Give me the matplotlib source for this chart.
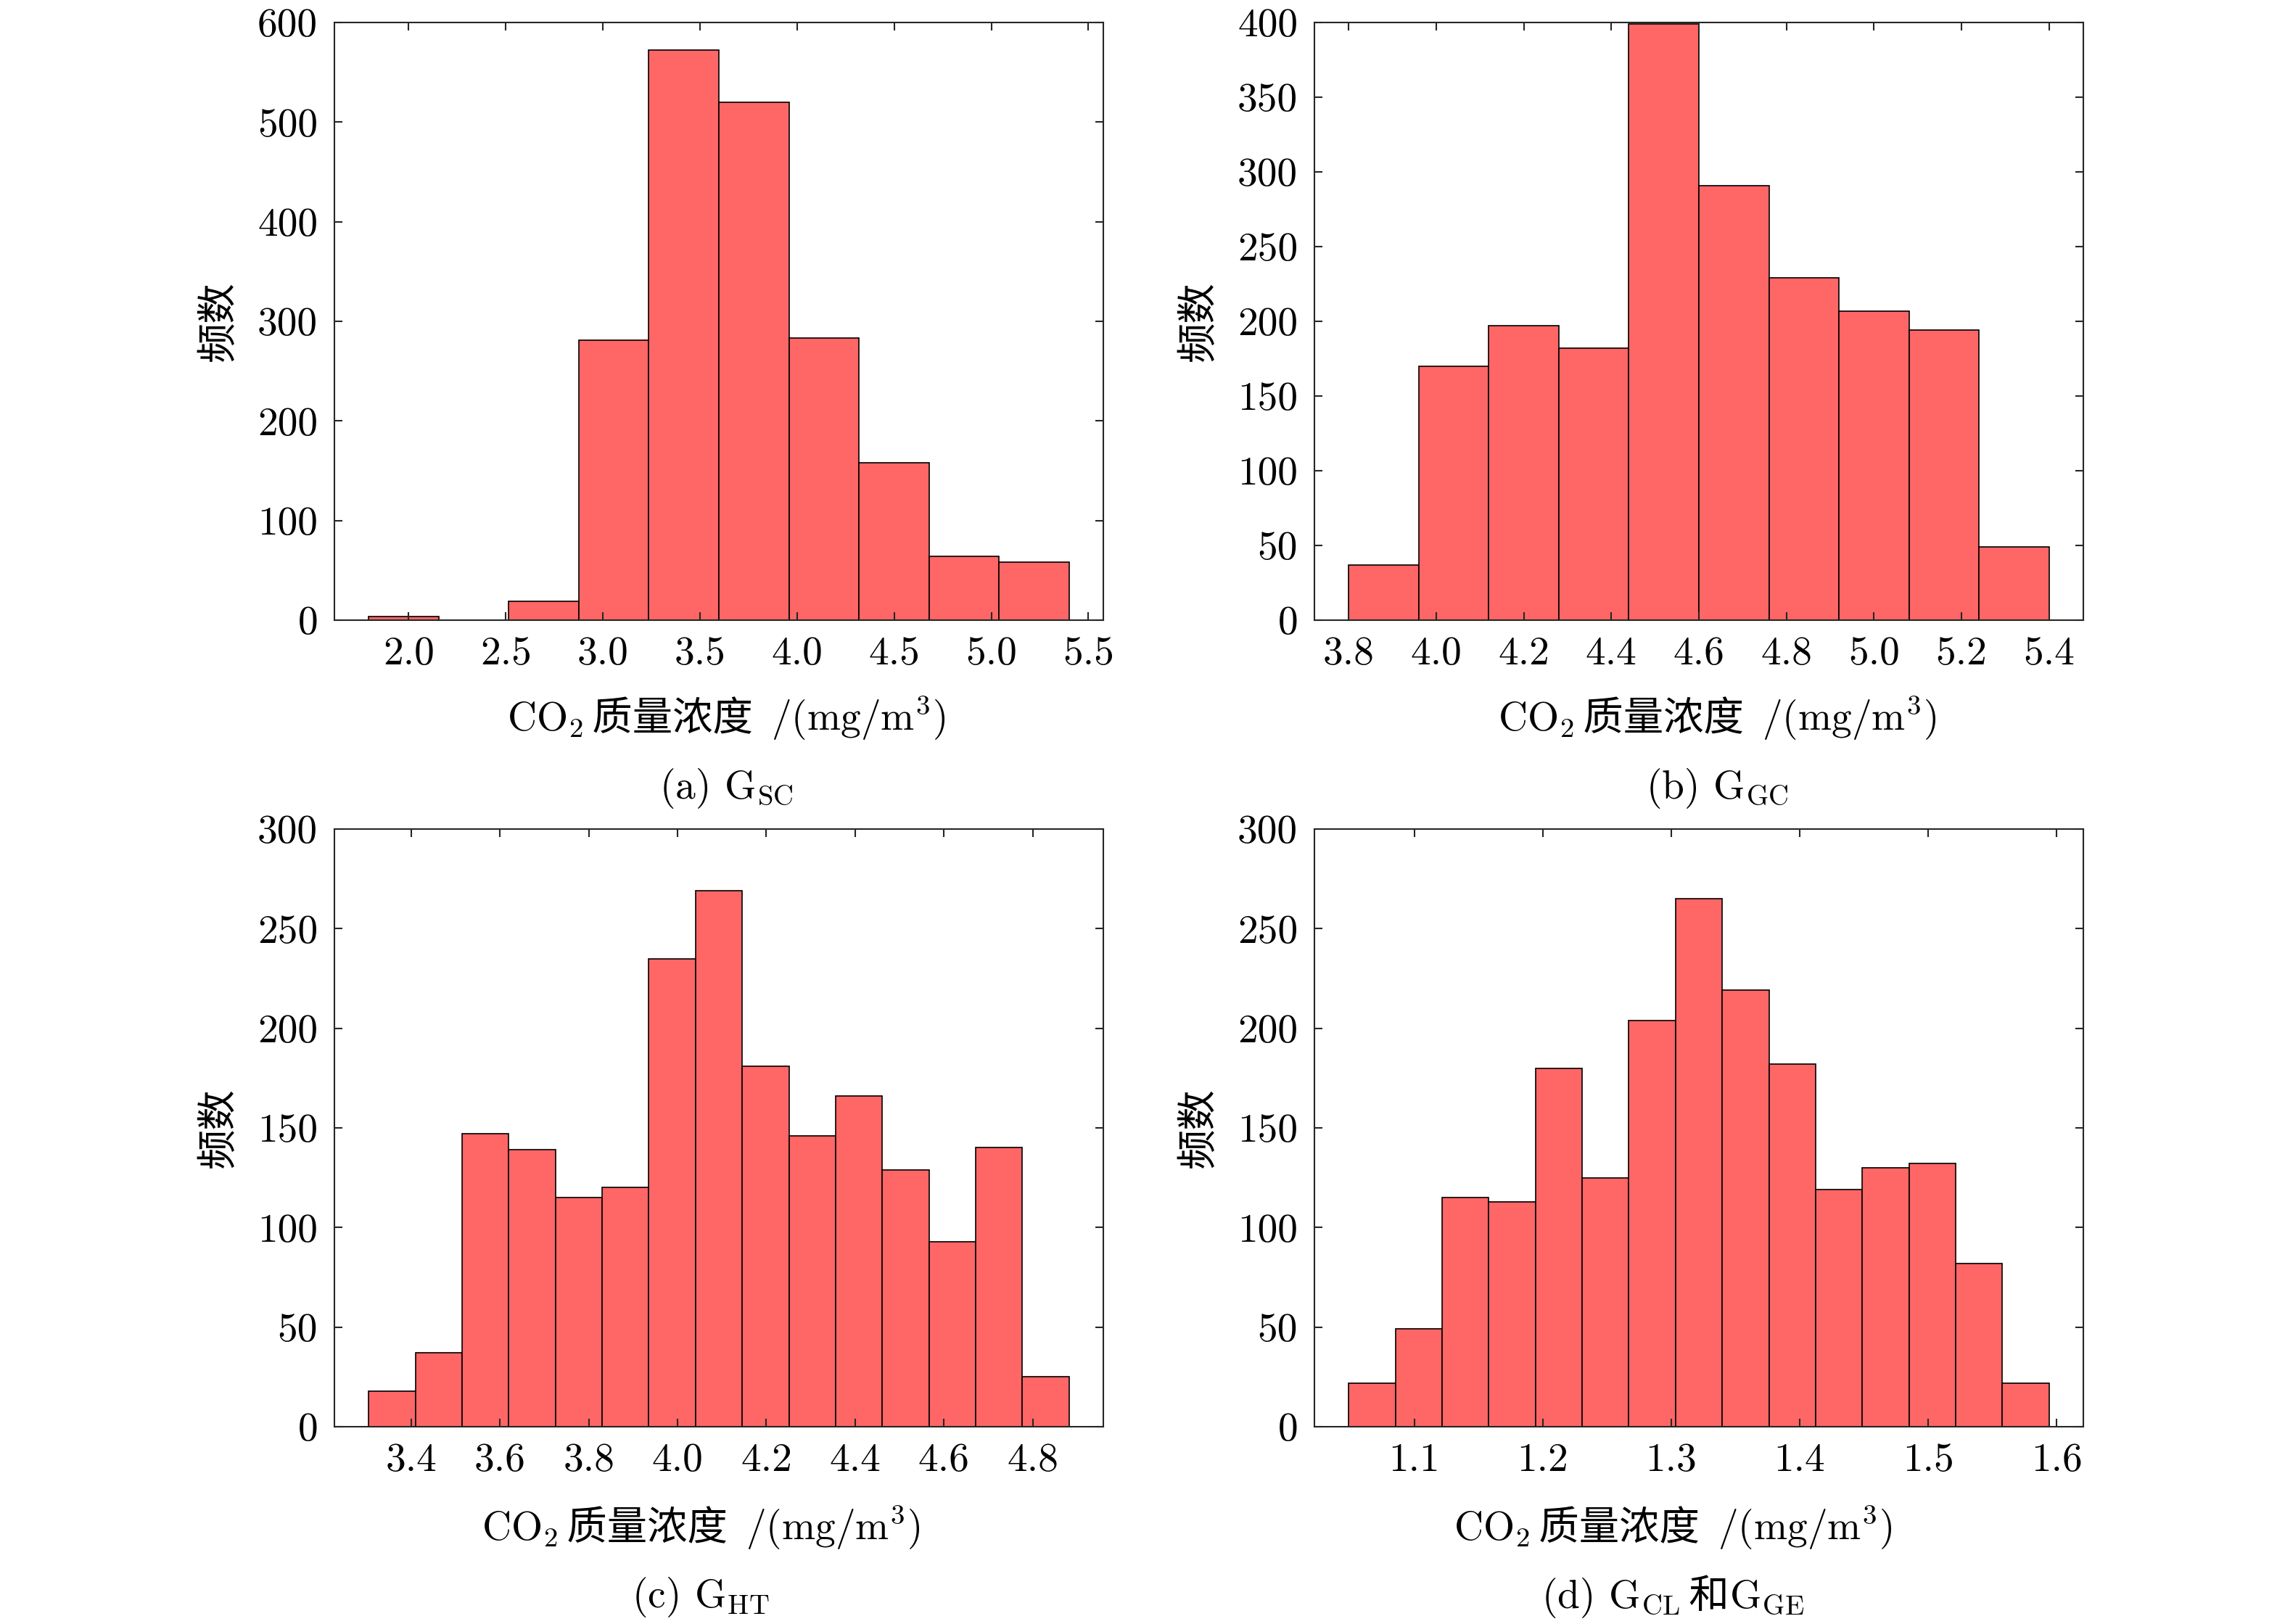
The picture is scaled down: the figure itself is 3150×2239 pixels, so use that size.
"""
Histograms of CO2 mass concentration for four groups (2x2 panel figure)
"""
import numpy as np
import matplotlib
matplotlib.use("Agg")
import matplotlib.pyplot as plt
from matplotlib.offsetbox import TextArea, HPacker, AnnotationBbox

plt.rcParams["font.family"] = ["cmr10", "Noto Sans CJK SC"]
plt.rcParams["mathtext.fontset"] = "cm"
plt.rcParams["axes.formatter.use_mathtext"] = True
plt.rcParams["axes.unicode_minus"] = False

# ---- data ----
# histogram counts per bin, and the range spanned by the bins
counts_a = [4, 0, 19, 281, 572, 520, 283, 158, 64, 58]
range_a = (1.794, 5.40)
counts_b = [37, 170, 197, 182, 399, 291, 229, 207, 194, 49]
range_b = (3.80, 5.40)
counts_c = [18, 37, 147, 139, 115, 120, 235, 269, 181, 146, 166, 129, 93, 140, 25]
range_c = (3.304, 4.882)
counts_d = [22, 49, 115, 113, 180, 125, 204, 265, 219, 182, 119, 130, 132, 82, 22]
range_d = (1.049, 1.594)

xticks_a = ["2.0", "2.5", "3.0", "3.5", "4.0", "4.5", "5.0", "5.5"]
xticks_b = ["3.8", "4.0", "4.2", "4.4", "4.6", "4.8", "5.0", "5.2", "5.4"]
xticks_c = ["3.4", "3.6", "3.8", "4.0", "4.2", "4.4", "4.6", "4.8"]
xticks_d = ["1.1", "1.2", "1.3", "1.4", "1.5", "1.6"]

yticks_a = [0, 100, 200, 300, 400, 500, 600]
yticks_b = [0, 50, 100, 150, 200, 250, 300, 350, 400]
yticks_c = [0, 50, 100, 150, 200, 250, 300]
yticks_d = [0, 50, 100, 150, 200, 250, 300]

# caption pieces: (text, font family)
caption_a = [("(a) G$_{\\mathrm{SC}}$", "cmr10")]
caption_b = [("(b) G$_{\\mathrm{GC}}$", "cmr10")]
caption_c = [("(c) G$_{\\mathrm{HT}}$", "cmr10")]
caption_d = [("(d) G$_{\\mathrm{CL}}$", "cmr10"), (" 和", "Noto Sans CJK SC"),
             ("G$_{\\mathrm{GE}}$", "cmr10")]

xlabel_parts = [("CO$_2$", "cmr10"), (" 质量浓度  ", "Noto Sans CJK SC"),
                ("/(mg/m$^3$)", "cmr10")]
ylabel = "频数"

panels = [
    (counts_a, range_a, xticks_a, yticks_a, caption_a),
    (counts_b, range_b, xticks_b, yticks_b, caption_b),
    (counts_c, range_c, xticks_c, yticks_c, caption_c),
    (counts_d, range_d, xticks_d, yticks_d, caption_d),
]

# ---- style ----
FS = 13.3
BAR_COLOR = "#ff6666"
AX_COLOR = "#262626"
DPI = 300
W, H = 3150, 2239

# axes frames in pixels: (left, top, right, bottom)
frames = [
    (461, 31, 1521, 855),
    (1812, 31, 2872, 855),
    (461, 1143, 1521, 1967),
    (1812, 1143, 2872, 1967),
]
# text placement below each axes: (x shift, xlabel drop, caption drop) in pt
text_pos = [
    (2.5, 32.5, 55.6),
    (6.0, 32.5, 55.6),
    (-6.0, 33.5, 56.5),
    (-8.6, 33.5, 56.5),
]


def packed_text(parts):
    boxes = [TextArea(t, textprops=dict(fontsize=FS, family=f, color="black"))
             for t, f in parts]
    return HPacker(children=boxes, align="baseline", pad=0, sep=0)


def put_below(ax, parts, dx, dy):
    ab = AnnotationBbox(packed_text(parts), (0.5, 0), xycoords="axes fraction",
                        xybox=(dx, -dy), boxcoords="offset points",
                        box_alignment=(0.5, 0.5), frameon=False, pad=0,
                        annotation_clip=False)
    ax.add_artist(ab)


fig = plt.figure(figsize=(W / DPI, H / DPI), dpi=DPI)

for (l, t, r, b), (dx, dy_lab, dy_cap), (counts, (lo, hi), xt, yt, caption) in zip(
        frames, text_pos, panels):
    ax = fig.add_axes((l / W, 1 - b / H, (r - l) / W, (b - t) / H))
    edges = np.linspace(lo, hi, len(counts) + 1)
    ax.bar(edges[:-1], counts, width=np.diff(edges), align="edge",
           color=BAR_COLOR, edgecolor="black", linewidth=0.4)
    ax.margins(x=0.049)
    ax.set_ylim(yt[0], yt[-1])
    ax.set_yticks(yt)
    ax.set_yticklabels([str(v) for v in yt])
    ax.set_xticks([float(v) for v in xt])
    ax.set_xticklabels(xt)
    ax.tick_params(direction="in", length=2.6, width=0.5, pad=5.5,
                   top=True, right=True, labelsize=FS, colors=AX_COLOR,
                   labelcolor="black")
    for sp in ax.spines.values():
        sp.set_linewidth(0.5)
        sp.set_color(AX_COLOR)
    ax.set_ylabel(ylabel, family="Noto Sans CJK SC", fontsize=FS, labelpad=6)

    put_below(ax, xlabel_parts, dx, dy_lab)
    put_below(ax, caption, dx, dy_cap)

fig.savefig("out.png", dpi=DPI)
